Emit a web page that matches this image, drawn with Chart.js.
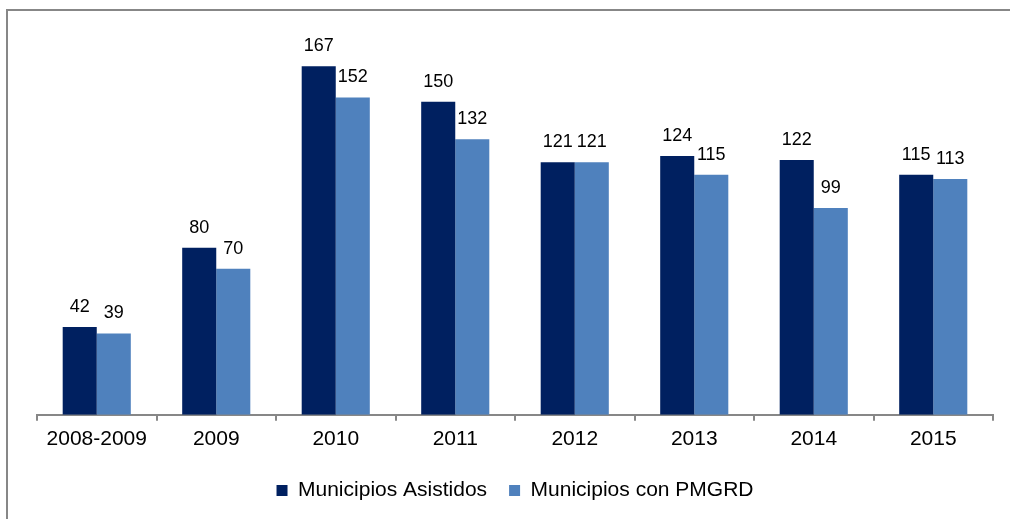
<!DOCTYPE html>
<html>
<head>
<meta charset="utf-8">
<script src="https://cdn.jsdelivr.net/npm/chart.js@4.4.0/dist/chart.umd.min.js"></script>
<style>
    html, body { margin: 0; padding: 0; background: #fff; overflow: hidden; }
    .wrap { position: relative; width: 1010px; height: 519px; }
    .frame {
        position: absolute; left: 6px; top: 9px; width: 1100px; height: 600px;
        border-top: 2px solid #878787; border-left: 2px solid #878787;
    }
    canvas { position: absolute; left: 0; top: 0; }
</style>
</head>
<body>
<div class="wrap">
    <div class="frame"></div>
    <canvas id="barChart" width="1010" height="519"></canvas>
</div>
<script>
const categories = ['2008-2009', '2009', '2010', '2011', '2012', '2013', '2014', '2015'];
const asistidos = [42, 80, 167, 150, 121, 124, 122, 115];
const conPmgrd = [39, 70, 152, 132, 121, 115, 99, 113];

const FONT = "'Liberation Sans', Arial, sans-serif";

// ---- value labels above bars ----
const valueLabels = {
    id: 'valueLabels',
    afterDatasetsDraw(chart) {
        const ctx = chart.ctx;
        ctx.save();
        ctx.font = "18px " + FONT;
        ctx.fillStyle = '#000';
        ctx.textAlign = 'center';
        ctx.textBaseline = 'alphabetic';
        chart.data.datasets.forEach((ds, i) => {
            chart.getDatasetMeta(i).data.forEach((bar, j) => {
                ctx.fillText(ds.data[j], bar.x, bar.y - 15);
            });
        });
        ctx.restore();
    }
};

const barCtx = document.getElementById('barChart').getContext('2d');
new Chart(barCtx, {
    type: 'bar',
    data: {
        labels: categories,
        datasets: [
            {
                label: 'Municipios Asistidos',
                data: asistidos,
                backgroundColor: '#002060',
                categoryPercentage: 0.57,
                barPercentage: 1.0
            },
            {
                label: 'Municipios con PMGRD',
                data: conPmgrd,
                backgroundColor: '#4f81bd',
                categoryPercentage: 0.57,
                barPercentage: 1.0
            }
        ]
    },
    options: {
        responsive: false,
        animation: false,
        layout: { padding: { left: 37, right: 17, top: 39, bottom: 8 } },
        plugins: {
            tooltip: { enabled: false },
            legend: {
                position: 'bottom',
                labels: {
                    color: '#000',
                    font: { family: FONT, size: 21 },
                    boxWidth: 11,
                    boxHeight: 11,
                    padding: 22
                }
            }
        },
        scales: {
            x: {
                grid: {
                    display: true,
                    drawOnChartArea: false,
                    drawTicks: true,
                    tickLength: 6,
                    color: '#878787',
                    lineWidth: 2
                },
                border: { display: true, color: '#878787', width: 2 },
                ticks: {
                    color: '#000',
                    font: { family: FONT, size: 21 },
                    padding: 6,
                    maxRotation: 0
                }
            },
            y: {
                display: false,
                min: 0,
                max: 180
            }
        }
    },
    plugins: [valueLabels]
});
</script>
</body>
</html>
